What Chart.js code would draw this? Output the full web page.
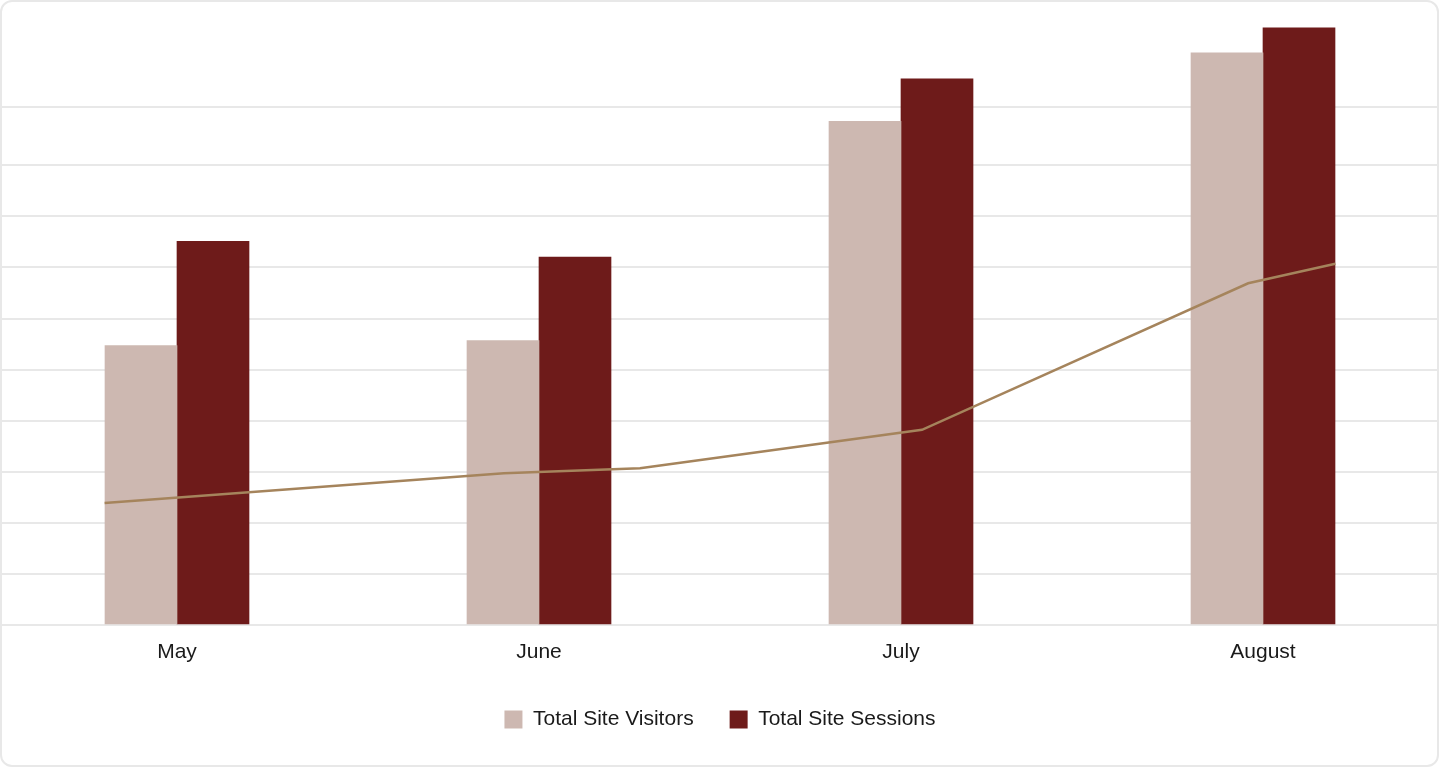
<!DOCTYPE html>
<html>
<head>
<meta charset="utf-8">
<title>Site Visitors and Sessions</title>
<script src="https://cdn.jsdelivr.net/npm/chart.js@4.4.1/dist/chart.umd.min.js"></script>
<style>
  html, body { margin: 0; padding: 0; background: #fff; }
  #card {
    position: absolute; left: 0; top: 0;
    width: 1439px; height: 767px;
    box-sizing: border-box;
    border: 2px solid #e8e8e8;
    border-radius: 12px;
    overflow: hidden;
  }
  #wrap { position: absolute; left: -6px; top: -2px; width: 1448px; height: 767px; }
</style>
</head>
<body>
<div id="card">
  <div id="wrap"><canvas id="siteChart"></canvas></div>
</div>
<script>
// chart data
const months = ["May", "June", "July", "August"];
const visitors = [547, 557, 986, 1120];
const sessions = [751, 720, 1069, 1169];

// trend line (x in category units, May = 0)
const trendX = [-0.2, 0.903, 1.279, 2.058, 2.959, 3.2];
const trendY = [239, 297, 307, 382, 669, 707];

// horizontal grid lines
const gridValues = [0, 100, 200, 300, 400, 500, 600, 700, 800, 900, 1014];

const trendPoints = trendX.map((x, i) => ({ x: x, y: trendY[i] }));

const fontFamily = "'Liberation Sans', Arial, sans-serif";
const ctx = document.getElementById("siteChart").getContext("2d");

new Chart(ctx, {
  type: "bar",
  data: {
    labels: months,
    datasets: [
      {
        type: "line",
        label: "Trend",
        data: trendPoints,
        xAxisID: "xl",
        borderColor: "#a5845c",
        borderWidth: 2.5,
        pointRadius: 0,
        tension: 0,
        order: 0,
      },
      {
        label: "Total Site Visitors",
        data: visitors,
        backgroundColor: "#cdb8b1",
        borderWidth: 0,
        barThickness: 72,
        order: 1,
      },
      {
        label: "Total Site Sessions",
        data: sessions,
        backgroundColor: "#6e1b1a",
        borderWidth: 0,
        barThickness: 72,
        order: 1,
      },
    ],
  },
  options: {
    responsive: true,
    maintainAspectRatio: false,
    animation: false,
    layout: { padding: { top: 12, left: 0, right: 0, bottom: 27 } },
    scales: {
      x: {
        grid: { display: false, drawTicks: false },
        border: { display: false },
        afterFit: (axis) => {
          axis.height = 48;
        },
        ticks: {
          padding: 15,
          color: "#1a1a1a",
          font: { family: fontFamily, size: 21 },
        },
      },
      xl: {
        type: "linear",
        display: false,
        offset: false,
        min: -0.5,
        max: 3.5,
      },
      y: {
        min: 0,
        max: 1200,
        afterBuildTicks: (axis) => {
          axis.ticks = gridValues.map((v) => ({ value: v }));
        },
        grid: { color: "#e8e8e8", lineWidth: 2, drawTicks: false },
        border: { display: false },
        ticks: { display: false },
      },
    },
    plugins: {
      legend: {
        position: "bottom",
        labels: {
          boxWidth: 18,
          boxHeight: 18,
          padding: 36,
          color: "#1a1a1a",
          font: { family: fontFamily, size: 21 },
          filter: (item) => item.text !== "Trend",
        },
      },
      tooltip: { enabled: false },
    },
  },
});
</script>
</body>
</html>
